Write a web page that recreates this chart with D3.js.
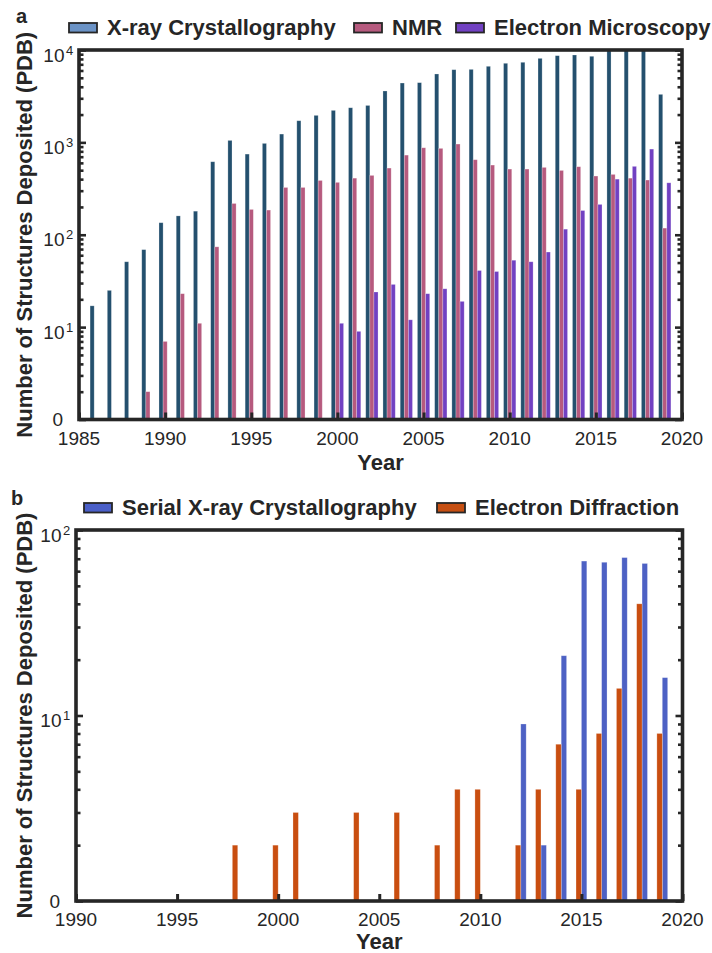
<!DOCTYPE html>
<html>
<head>
<meta charset="utf-8">
<script src="https://cdn.jsdelivr.net/npm/d3@7/dist/d3.min.js"></script>
<style>
  body { margin: 0; background: #fff; }
  text { font-family: "Liberation Sans", Arial, sans-serif; fill: #262626; }
</style>
</head>
<body>
<div id="chart-area"></div>
<script>
// ---- panel a data (PDB depositions per year) ----
const xrayYears  = [1986,1987,1988,1989,1990,1991,1992,1993,1994,1995,1996,1997,1998,1999,2000,2001,2002,2003,2004,2005,2006,2007,2008,2009,2010,2011,2012,2013,2014,2015,2016,2017,2018,2019];
const xrayCounts = [17,25,51,69,135,160,180,617,1050,747,975,1230,1715,1960,2220,2370,2510,3600,4390,4430,5500,6120,6170,6660,7180,7360,8120,8680,8830,8550,10600,10900,10800,3310];

const nmrYears  = [1989,1990,1991,1992,1993,1994,1995,1996,1997,1998,1999,2000,2001,2002,2003,2004,2005,2006,2007,2008,2009,2010,2011,2012,2013,2014,2015,2016,2017,2018,2019];
const nmrCounts = [2,7,23,11,74,218,188,185,325,325,387,369,410,439,527,728,874,861,959,649,568,514,514,536,497,545,432,450,410,391,118];

const emYears  = [2000,2001,2002,2003,2004,2005,2006,2007,2008,2009,2010,2011,2012,2013,2014,2015,2016,2017,2018,2019];
const emCounts = [11,9,24,29,12,23,26,19,41,40,53,51,65,115,183,213,400,550,846,365];

// ---- panel b data ----
const sxYears  = [2012,2013,2014,2015,2016,2017,2018,2019];
const sxCounts = [9,2,21,68,67,71,66,16];

const edYears  = [1998,2000,2001,2004,2006,2008,2009,2010,2012,2013,2014,2015,2016,2017,2018,2019];
const edCounts = [2,2,3,3,3,2,4,4,2,4,7,4,8,14,40,8];

// ---- tick labels ----
const xTicksA = [1985,1990,1995,2000,2005,2010,2015,2020];
const xTicksB = [1990,1995,2000,2005,2010,2015,2020];
const yExpA = [0,1,2,3,4];
const yExpB = [0,1,2];

const ink = '#262626';

const svg = d3.select('#chart-area')
              .append('svg')
              .attr('width', 712)
              .attr('height', 953);

function drawPanel(p) {
    const g = svg.append('g');

    const x = d3.scaleLinear().domain(p.xDomain).range([p.left, p.right]);
    const y = d3.scaleLog().domain([1, Math.pow(10, p.yExp[p.yExp.length-1])]).range([p.bottom, p.top]);

    const clipId = 'clip-' + p.name;
    g.append('clipPath').attr('id', clipId)
     .append('rect')
     .attr('x', p.left).attr('y', p.top)
     .attr('width', p.right - p.left).attr('height', p.bottom - p.top);

    const slot = (x(1) - x(0)) * p.slotYears;

    // bars
    const bars = g.append('g').attr('clip-path', `url(#${clipId})`);
    p.series.forEach((s, si) => {
        const rows = s.years.map((yr, i) => ({year: yr, value: s.counts[i]}));
        bars.selectAll(null)
            .data(rows)
            .enter()
            .append('rect')
            .attr('x', d => x(d.year) + s.offset * slot - slot / 2)
            .attr('y', d => y(d.value))
            .attr('width', slot)
            .attr('height', d => p.bottom - y(d.value))
            .attr('fill', s.color)
            .attr('stroke', '#fff')
            .attr('stroke-opacity', 0.35)
            .attr('stroke-width', 0.7);
    });

    // y ticks (major + minor) on both sides
    const major = p.yExp.map(e => Math.pow(10, e));
    const minor = [];
    p.yExp.slice(0, -1).forEach(e => {
        for (let m = 2; m <= 9; m++) minor.push(m * Math.pow(10, e));
    });

    const yAxisL = d3.axisRight(y).tickValues(major).tickSize(7).tickFormat('');
    const yAxisLm = d3.axisRight(y).tickValues(minor).tickSize(4.5).tickFormat('');
    const yAxisR = d3.axisLeft(y).tickValues(major).tickSize(7).tickFormat('');
    const yAxisRm = d3.axisLeft(y).tickValues(minor).tickSize(4.5).tickFormat('');

    [[yAxisL, p.left], [yAxisLm, p.left], [yAxisR, p.right], [yAxisRm, p.right]].forEach(([ax, pos]) => {
        const a = g.append('g').attr('transform', `translate(${pos},0)`).call(ax);
        a.select('.domain').remove();
        a.selectAll('line').attr('stroke', ink).attr('stroke-width', 2.6);
    });

    // x ticks (bottom, inward)
    const xAxis = d3.axisTop(x).tickValues(p.xTicks).tickSize(7).tickFormat('');
    const xa = g.append('g').attr('transform', `translate(0,${p.bottom})`).call(xAxis);
    xa.select('.domain').remove();
    xa.selectAll('line').attr('stroke', ink).attr('stroke-width', 3);

    // frame
    g.append('rect')
     .attr('x', p.left).attr('y', p.top)
     .attr('width', p.right - p.left).attr('height', p.bottom - p.top)
     .attr('fill', 'none').attr('stroke', ink).attr('stroke-width', 3.6);

    // x tick labels
    g.selectAll(null)
     .data(p.xTicks)
     .enter()
     .append('text')
     .attr('x', d => x(d))
     .attr('y', p.bottom + 25)
     .attr('text-anchor', 'middle')
     .style('font-size', '19px')
     .text(d => d);

    // y tick labels: "0" at the bottom, 10^n above
    p.yExp.forEach(e => {
        const yy = y(Math.pow(10, e));
        if (e === 0) {
            g.append('text')
             .attr('x', p.left - 16).attr('y', yy + 6.5)
             .attr('text-anchor', 'end')
             .style('font-size', '19px')
             .text('0');
        } else {
            g.append('text')
             .attr('x', p.left - 14.5).attr('y', yy + 11.5)
             .attr('text-anchor', 'end')
             .style('font-size', '19px')
             .text('10');
            g.append('text')
             .attr('x', p.left - 13).attr('y', yy + 4.5)
             .style('font-size', '13px')
             .text(e);
        }
    });

    // axis titles
    g.append('text')
     .attr('x', (p.left + p.right) / 2)
     .attr('y', p.bottom + p.yearDy)
     .attr('text-anchor', 'middle')
     .style('font-size', '22px')
     .style('font-weight', 'bold')
     .text('Year');

    g.append('text')
     .attr('transform', `translate(32,${(p.top + p.bottom) / 2}) rotate(-90)`)
     .attr('text-anchor', 'middle')
     .style('font-size', '22px')
     .style('font-weight', 'bold')
     .text('Number of Structures Deposited (PDB)');

    // panel letter
    g.append('text')
     .attr('x', p.letterX).attr('y', p.letterY)
     .style('font-size', '20px')
     .style('font-weight', 'bold')
     .text(p.name);

    // legend
    p.series.forEach(s => {
        g.append('rect')
         .attr('x', s.legX).attr('y', p.legY - 12)
         .attr('width', 28).attr('height', 9.5)
         .attr('fill', s.legColor)
         .attr('stroke', ink).attr('stroke-width', 1.8);
        g.append('text')
         .attr('x', s.legX + 38).attr('y', p.legY)
         .style('font-size', '22px')
         .style('font-weight', 'bold')
         .text(s.label);
    });
}

drawPanel({
    name: 'a',
    left: 79, right: 682, top: 50, bottom: 419.5,
    xDomain: [1985, 2020],
    xTicks: xTicksA,
    yExp: yExpA,
    slotYears: 0.238,
    letterX: 16, letterY: 23,
    legY: 35,
    yearDy: 50,
    series: [
        {label: 'X-ray Crystallography', years: xrayYears, counts: xrayCounts, offset: -1, color: '#24506e', legColor: '#6b93c6', legX: 69},
        {label: 'NMR', years: nmrYears, counts: nmrCounts, offset: 0, color: '#b65a7e', legColor: '#b65a7e', legX: 354},
        {label: 'Electron Microscopy', years: emYears, counts: emCounts, offset: 1, color: '#7141c2', legColor: '#7141c2', legX: 456}
    ]
});

drawPanel({
    name: 'b',
    left: 76, right: 682.5, top: 530, bottom: 901,
    xDomain: [1990, 2020],
    xTicks: xTicksB,
    yExp: yExpB,
    slotYears: 0.267,
    letterX: 11, letterY: 505,
    legY: 515,
    yearDy: 48,
    series: [
        {label: 'Serial X-ray Crystallography', years: sxYears, counts: sxCounts, offset: 0.5, color: '#4d61c4', legColor: '#4a5fc8', legX: 84},
        {label: 'Electron Diffraction', years: edYears, counts: edCounts, offset: -0.5, color: '#c94e10', legColor: '#c64f12', legX: 437}
    ]
});
</script>
</body>
</html>
